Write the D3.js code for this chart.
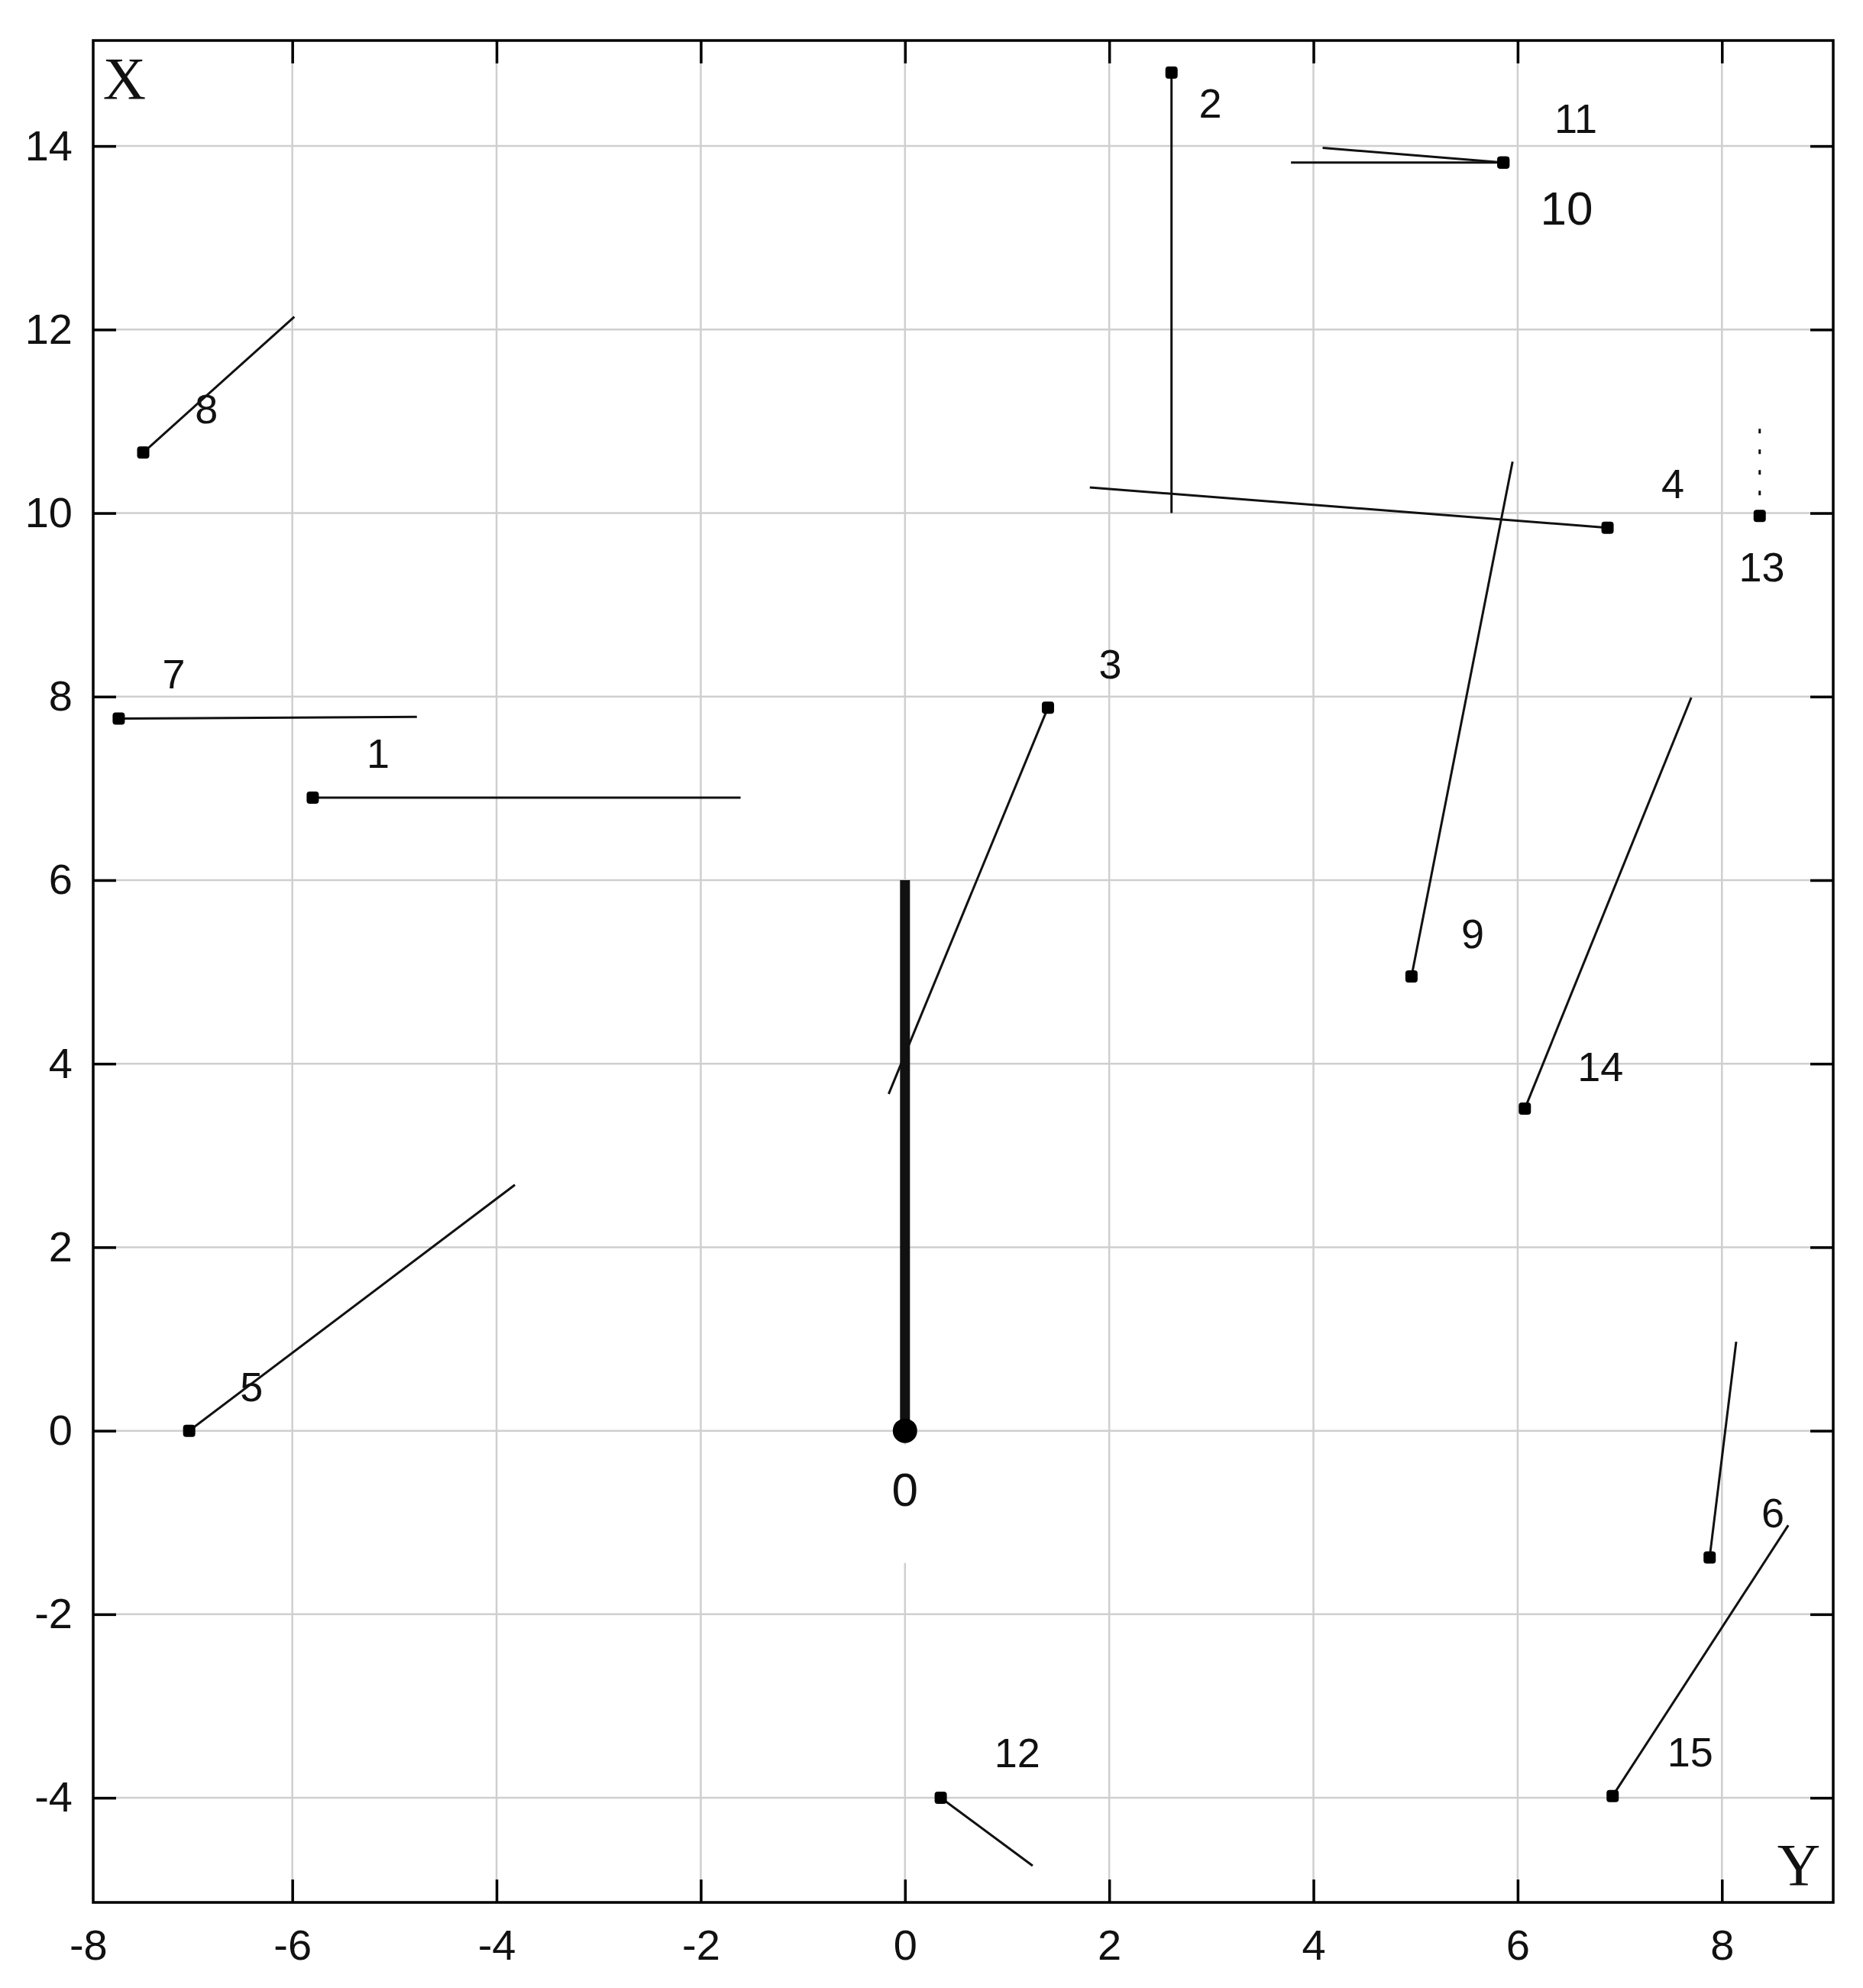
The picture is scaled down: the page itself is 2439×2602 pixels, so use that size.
<!DOCTYPE html>
<html>
<head>
<meta charset="utf-8">
<script src="https://cdn.jsdelivr.net/npm/d3@7/dist/d3.min.js"></script>
<style>
  body { margin: 0; background: #fff; }
  svg { display: block; }
  text { font-family: "Liberation Sans", Arial, sans-serif; fill: #111; }
</style>
</head>
<body>
<div id="chart"></div>
<script>
// horizontal axis is labelled "Y", vertical axis "X"
var segIds   = [0, 1, 2, 3, 4, 5, 6, 7, 8, 9, 10, 11, 12, 13, 14, 15];
var startY   = [0, -5.80, 2.61, 1.40, 6.88, -7.01, 7.88, -7.70, -7.46, 4.96, 5.86, 5.86, 0.35, 8.37, 6.07, 6.93];
var startX   = [0, 6.90, 14.80, 7.88, 9.84, 0, -1.38, 7.76, 10.66, 4.95, 13.82, 13.82, -4.00, 9.97, 3.51, -3.98];
var endY     = [0, -1.61, 2.61, -0.16, 1.81, -3.82, 8.14, -4.78, -5.98, 5.95, 3.78, 4.09, 1.25, 8.37, 7.70, 8.65];
var endX     = [6, 6.90, 10.00, 3.67, 10.28, 2.68, 0.97, 7.78, 12.14, 10.56, 13.82, 13.98, -4.74, 10.93, 7.99, -1.03];
var labelY   = [0, -5.16, 2.99, 2.01, 7.52, -6.40, 8.50, -7.16, -6.84, 5.56, 6.48, 6.57, 1.10, 8.39, 6.81, 7.69];
var labelX   = [-0.64, 7.38, 14.47, 8.36, 10.32, 0.48, -0.89, 8.25, 11.14, 5.42, 13.32, 14.30, -3.51, 9.41, 3.97, -3.50];
var dottedIds = [13];

var yTicks = [-8, -6, -4, -2, 0, 2, 4, 6, 8];
var xTicks = [-4, -2, 0, 2, 4, 6, 8, 10, 12, 14];

var width = 2439, height = 2602,
    padLeft = 122, padRight = 2400, padTop = 53, padBottom = 2490,
    tickLen = 30;

var sx = d3.scaleLinear().domain([-7.95, 9.09]).range([padLeft, padRight]);
var sy = d3.scaleLinear().domain([-5.14, 15.15]).range([padBottom, padTop]);
var fmt = function(d) { return String(d); };

var svg = d3.select("#chart").append("svg")
    .attr("width", width)
    .attr("height", height);

svg.append("rect").attr("width", width).attr("height", height).attr("fill", "#fff");

// grid
var grid = svg.append("g");
grid.selectAll(".vg")
    .data(yTicks.filter(function(d) { return sx(d) > padLeft + 2; }))
    .enter().append("line")
    .attr("x1", function(d) { return sx(d); })
    .attr("x2", function(d) { return sx(d); })
    .attr("y1", padTop).attr("y2", padBottom)
    .attr("stroke", "#cfcfcf").attr("stroke-width", 2.5);
grid.selectAll(".hg")
    .data(xTicks)
    .enter().append("line")
    .attr("y1", function(d) { return sy(d); })
    .attr("y2", function(d) { return sy(d); })
    .attr("x1", padLeft).attr("x2", padRight)
    .attr("stroke", "#cfcfcf").attr("stroke-width", 2.5);

// axes, ticks point inwards
function styleAxis(g) {
    g.select(".domain").remove();
    g.selectAll(".tick line").attr("stroke", "#000").attr("stroke-width", 3.5);
    g.selectAll(".tick text")
        .style("font-family", '"Liberation Sans", Arial, sans-serif')
        .style("font-size", "56px")
        .attr("fill", "#111");
}

svg.append("g")
    .attr("transform", "translate(0," + padBottom + ")")
    .call(d3.axisBottom(sx).tickValues(yTicks).tickSize(-tickLen).tickPadding(35).tickFormat(fmt))
    .call(styleAxis)
    .selectAll(".tick line").filter(function(d) { return sx(d) < padLeft + 2; }).remove();

svg.append("g")
    .attr("transform", "translate(" + padLeft + ",0)")
    .call(d3.axisLeft(sy).tickValues(xTicks).tickSize(-tickLen).tickPadding(27).tickFormat(fmt))
    .call(styleAxis);

svg.append("g")
    .attr("transform", "translate(0," + padTop + ")")
    .call(d3.axisTop(sx).tickValues(yTicks.filter(function(d) { return sx(d) > padLeft + 2; })).tickSize(-tickLen).tickFormat(""))
    .call(styleAxis);

svg.append("g")
    .attr("transform", "translate(" + padRight + ",0)")
    .call(d3.axisRight(sy).tickValues(xTicks).tickSize(-tickLen).tickFormat(""))
    .call(styleAxis);

// frame
svg.append("rect")
    .attr("x", padLeft).attr("y", padTop)
    .attr("width", padRight - padLeft).attr("height", padBottom - padTop)
    .attr("fill", "none").attr("stroke", "#000").attr("stroke-width", 3.5);

// axis names
svg.append("text")
    .attr("x", 163).attr("y", 129)
    .attr("text-anchor", "middle")
    .style("font-family", '"Liberation Serif", "Times New Roman", serif')
    .style("font-size", "78px")
    .text("X");
svg.append("text")
    .attr("x", 2355).attr("y", 2467)
    .attr("text-anchor", "middle")
    .style("font-family", '"Liberation Serif", "Times New Roman", serif')
    .style("font-size", "78px")
    .text("Y");

// segments
var segs = segIds.map(function(id, i) {
    return {id: id, y0: startY[i], x0: startX[i], y1: endY[i], x1: endX[i],
            ly: labelY[i], lx: labelX[i], dotted: dottedIds.indexOf(id) >= 0};
});

// white patch under the "0" label hides the grid there
svg.append("rect")
    .attr("x", sx(0) - 40).attr("y", sy(0) + 18)
    .attr("width", 80).attr("height", 155)
    .attr("fill", "#fff");

var g = svg.append("g");

g.selectAll(".seg")
    .data(segs)
    .enter().append("line")
    .attr("x1", function(d) { return sx(d.y0); })
    .attr("y1", function(d) { return sy(d.x0); })
    .attr("x2", function(d) { return sx(d.y1); })
    .attr("y2", function(d) { return sy(d.x1); })
    .attr("stroke", "#111")
    .attr("stroke-width", function(d) { return d.id === 0 ? 13 : 3; })
    .attr("stroke-dasharray", function(d) { return d.dotted ? "6,21" : null; });

g.selectAll(".mark")
    .data(segs.filter(function(d) { return d.id !== 0; }))
    .enter().append("rect")
    .attr("x", function(d) { return sx(d.y0) - 8; })
    .attr("y", function(d) { return sy(d.x0) - 8; })
    .attr("width", 16).attr("height", 16)
    .attr("rx", 4)
    .attr("fill", "#000");

g.append("circle")
    .attr("cx", sx(segs[0].y0)).attr("cy", sy(segs[0].x0))
    .attr("r", 16).attr("fill", "#000");

g.selectAll(".lab")
    .data(segs)
    .enter().append("text")
    .attr("x", function(d) { return sx(d.ly); })
    .attr("y", function(d) { return sy(d.lx); })
    .attr("text-anchor", "middle")
    .attr("dominant-baseline", "central")
    .style("font-size", function(d) { return (d.id === 0 || d.id === 10) ? "62px" : "54px"; })
    .text(function(d) { return d.id; });
</script>
</body>
</html>
